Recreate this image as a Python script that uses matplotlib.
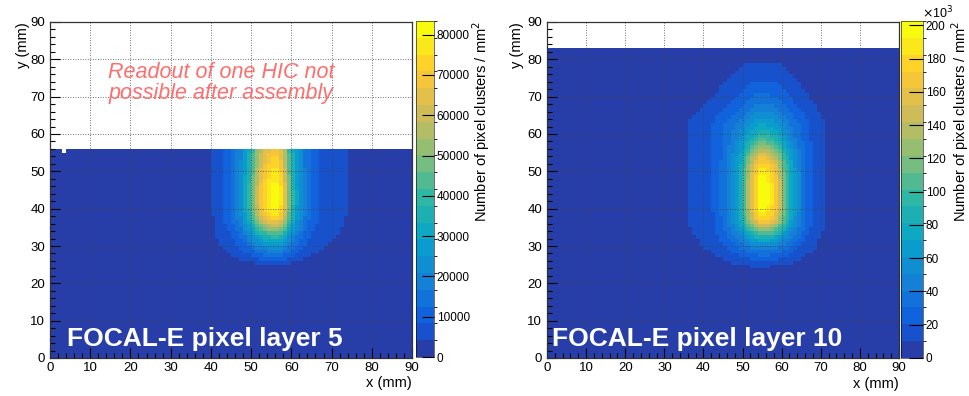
import numpy as np
import matplotlib
matplotlib.use("Agg")
import matplotlib.pyplot as plt
from matplotlib.colors import LinearSegmentedColormap, ListedColormap, BoundaryNorm
from matplotlib.ticker import FuncFormatter

plt.rcParams['font.family'] = ['Liberation Sans', 'DejaVu Sans']

# ---- data (relative profiles, 1 mm bins) ----
n_x = 90
left_rows = 56          # layer 5: only y < 56 mm read out
right_rows = 83         # layer 10
left_peak = 80000
right_peak = 200000
left_zmax = 83400
right_zmax = 202600

# layer 5: core + broad halo, each as x / y profile
l_core_x0 = 41
l_core_x = [0.02, 0.04, 0.06, 0.08, 0.115, 0.16, 0.2, 0.3, 0.4, 0.53, 0.68, 0.8,
            0.89, 0.95, 1.0, 1.0, 0.92, 0.74, 0.51, 0.37, 0.26, 0.2, 0.12, 0.075,
            0.05, 0.03, 0.02]
l_core_y0 = 25
l_core_y = [0.02, 0.05, 0.08, 0.12, 0.17, 0.23, 0.3, 0.38, 0.47, 0.57, 0.67, 0.77,
            0.85, 0.91, 0.95, 0.98, 1.0, 1.0, 1.0, 1.0, 0.99, 0.98, 0.96, 0.94,
            0.92, 0.9, 0.88, 0.86, 0.84, 0.82, 0.8]
l_halo_x0 = 40
l_halo_x = [0.24, 0.27, 0.3, 0.34, 0.38, 0.43, 0.49, 0.56, 0.64, 0.72, 0.8, 0.88,
            0.94, 0.98, 1.0, 1.0, 1.0, 0.98, 0.94, 0.88, 0.8, 0.72, 0.64, 0.56,
            0.5, 0.45, 0.41, 0.38, 0.35, 0.32, 0.3, 0.28, 0.26, 0.24]
l_halo_y0 = 24
l_halo_y = [0.15, 0.24, 0.37, 0.48, 0.57, 0.64, 0.7, 0.76, 0.81, 0.86, 0.9, 0.93,
            0.96, 0.98] + [1.0] * 18
l_core_amp = 0.8
l_halo_amp = 0.22
l_dead_cells = [(3, 55)]   # (x bin, y bin) with no entries

# layer 10
r_core_x0 = 43
r_core_x = [0.02, 0.04, 0.075, 0.12, 0.17, 0.22, 0.335, 0.45, 0.6, 0.75, 0.875,
            1.0, 1.0, 0.96, 0.9, 0.82, 0.67, 0.53, 0.42, 0.31, 0.23, 0.17, 0.11,
            0.06, 0.04, 0.03]
r_core_y0 = 25
r_core_y = [0.02, 0.055, 0.085, 0.115, 0.16, 0.2, 0.27, 0.36, 0.47, 0.585, 0.7,
            0.81, 0.88, 0.93, 0.96, 0.99, 1.0, 1.0, 1.0, 1.0, 1.0, 1.0, 0.99, 0.96,
            0.94, 0.9, 0.875, 0.825, 0.775, 0.71, 0.625, 0.54, 0.46, 0.4, 0.34,
            0.29, 0.24, 0.2, 0.175, 0.155, 0.14, 0.12, 0.11, 0.105, 0.095, 0.083,
            0.074, 0.065, 0.054, 0.043, 0.037, 0.03, 0.022, 0.015, 0.01]
r_halo_x0 = 35
r_halo_x = [0.24, 0.27, 0.3, 0.33, 0.37, 0.41, 0.46, 0.51, 0.57, 0.63, 0.7, 0.76,
            0.82, 0.87, 0.91, 0.95, 0.97, 0.99, 1.0, 1.0, 1.0, 0.99, 0.97, 0.95,
            0.91, 0.87, 0.82, 0.76, 0.7, 0.63, 0.57, 0.5, 0.44, 0.38, 0.33, 0.28,
            0.24]
r_halo_y0 = 22
r_halo_y = ([0.1, 0.18, 0.26, 0.31, 0.38, 0.46, 0.54, 0.62, 0.7, 0.76, 0.82, 0.87,
             0.91, 0.94, 0.96, 0.98, 0.99] + [1.0] * 24 +
            [0.95, 0.88, 0.8, 0.72, 0.65, 0.58, 0.52, 0.47, 0.43, 0.39, 0.36, 0.33,
             0.3, 0.28, 0.26, 0.24, 0.15, 0.06])
r_core_amp = 0.8
r_halo_amp = 0.2

left_ticks = [0, 10000, 20000, 30000, 40000, 50000, 60000, 70000, 80000]
right_ticks = [0, 20000, 40000, 60000, 80000, 100000, 120000, 140000, 160000,
               180000, 200000]
x_ticks = [0, 10, 20, 30, 40, 50, 60, 70, 80, 90]
left_title = "FOCAL-E pixel layer 5"
right_title = "FOCAL-E pixel layer 10"
note = "Readout of one HIC not\npossible after assembly"
z_label = "Number of pixel clusters / mm$^{2}$"


def spread(prof, start, n):
    arr = np.zeros(n)
    arr[start:start + len(prof)] = prof
    return arr


def build_map(rows, peak, comps):
    z = np.zeros((rows, n_x))
    for amp, px, x0, py, y0 in comps:
        z += amp * np.outer(spread(py, y0, rows), spread(px, x0, n_x))
    return z * peak


# ROOT kBird palette, 20 contour bands
bird_r = [0.2082, 0.0592, 0.0780, 0.0232, 0.1802, 0.5301, 0.8186, 0.9956, 0.9764]
bird_g = [0.1664, 0.3599, 0.5041, 0.6419, 0.7178, 0.7492, 0.7328, 0.7862, 0.9832]
bird_b = [0.5293, 0.8684, 0.8385, 0.7914, 0.6425, 0.4662, 0.3499, 0.1968, 0.0539]
bird = LinearSegmentedColormap.from_list("bird", list(zip(bird_r, bird_g, bird_b)))
n_bands = 20
band_cmap = ListedColormap([bird((k + 0.99) / n_bands) for k in range(n_bands)])

W, H = 970, 396
fig = plt.figure(figsize=(W / 100, H / 100), dpi=100)


def px_box(x0, x1, y0, y1):
    return [x0 / W, 1 - y1 / H, (x1 - x0) / W, (y1 - y0) / H]


def draw_panel(ax, cax, z, zmax, ticks, tick_fmt, cb_ticklen):
    rows = z.shape[0]
    norm = BoundaryNorm(np.linspace(0, zmax, n_bands + 1), n_bands)
    mesh = ax.pcolormesh(np.arange(n_x + 1), np.arange(rows + 1), z,
                         cmap=band_cmap, norm=norm, shading="flat")
    ax.set_xlim(0, 90)
    ax.set_ylim(0, 90)
    ax.set_xticks(x_ticks)
    ax.set_yticks(x_ticks)
    ax.set_xticks(np.arange(0, 91, 2), minor=True)
    ax.set_yticks(np.arange(0, 91, 2), minor=True)
    ax.tick_params(which="both", direction="in", labelsize=9.5, top=False, right=False)
    ax.tick_params(which="major", length=7, width=0.8)
    ax.tick_params(which="minor", length=3.5, width=0.8)
    ax.tick_params(axis="x", pad=3)
    ax.grid(True, which="major", color="#444444", lw=0.6, ls=(0, (1, 2)))
    for s in ax.spines.values():
        s.set_linewidth(0.9)
        s.set_color("#333333")
    cb = fig.colorbar(mesh, cax=cax, ticks=ticks, format=tick_fmt)
    cb.outline.set_linewidth(0.4)
    cax.tick_params(direction="in", length=cb_ticklen, width=0.8, labelsize=8.5, pad=2)
    return mesh


ax1 = fig.add_axes(px_box(50, 412, 22, 358))
cax1 = fig.add_axes(px_box(416, 434, 21, 357))
ax2 = fig.add_axes(px_box(547, 899, 22, 358))
cax2 = fig.add_axes(px_box(901, 923, 21, 358))

z_left = build_map(left_rows, left_peak,
                   [(l_core_amp, l_core_x, l_core_x0, l_core_y, l_core_y0),
                    (l_halo_amp, l_halo_x, l_halo_x0, l_halo_y, l_halo_y0)])
for cx, cy in l_dead_cells:
    z_left[cy, cx] = np.nan
z_left = np.ma.masked_invalid(z_left)

z_right = build_map(right_rows, right_peak,
                    [(r_core_amp, r_core_x, r_core_x0, r_core_y, r_core_y0),
                     (r_halo_amp, r_halo_x, r_halo_x0, r_halo_y, r_halo_y0)])

draw_panel(ax1, cax1, z_left, left_zmax, left_ticks,
           FuncFormatter(lambda v, p: "%d" % v), 9)
draw_panel(ax2, cax2, z_right, right_zmax, right_ticks,
           FuncFormatter(lambda v, p: "%d" % round(v / 1000)), 10)

# titles inside plots
ax1.text(4.2, 3.2, left_title, color="white", fontsize=19, fontweight="bold")
ax2.text(1.3, 3.2, right_title, color="white", fontsize=19, fontweight="bold")
ax1.text(42.5, 73.7, note, color="#ff6e6e", fontsize=15.5, style="italic",
         ha="center", va="center", linespacing=1.0)

# axis labels, ROOT style
fig.text(412 / W, 1 - 383 / H, "x (mm)", ha="right", va="center", fontsize=10.5)
fig.text(899 / W, 1 - 384 / H, "x (mm)", ha="right", va="center", fontsize=10.5)
fig.text(23 / W, 1 - 22 / H, "y (mm)", rotation=90, ha="center", va="top", fontsize=10.5)
fig.text(517 / W, 1 - 22 / H, "y (mm)", rotation=90, ha="center", va="top", fontsize=10.5)
fig.text(481 / W, 1 - 21 / H, z_label, rotation=90, ha="center", va="top", fontsize=10.5)
fig.text(960 / W, 1 - 21 / H, z_label, rotation=90, ha="center", va="top", fontsize=10.5)
fig.text(922 / W, 1 - 13 / H, r"$\times$10$^{3}$", ha="left", va="center", fontsize=9)

fig.savefig("out.png", dpi=100)
